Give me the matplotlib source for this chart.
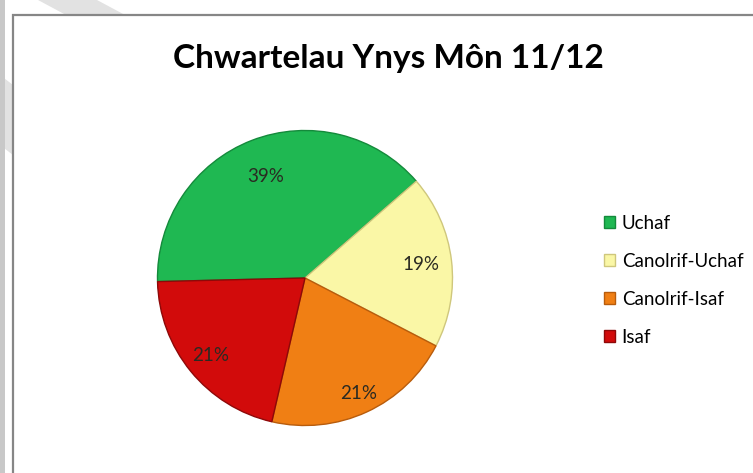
import numpy as np
import matplotlib.pyplot as plt
from matplotlib.patches import Rectangle, Polygon

# ---------- Data ----------
title = "Chwartelau Ynys Môn 11/12"
categories = ["Uchaf", "Canolrif-Uchaf", "Canolrif-Isaf", "Isaf"]
shares = [39, 19, 21, 21]
colors = ["#1FB852", "#FAF7A6", "#F07F14", "#D20B0B"]
edges = ["#148A3B", "#CFC77C", "#B85C0C", "#8E0808"]
# how far from the centre each percentage label sits (fraction of radius)
label_dist = [0.74, 0.79, 0.86, 0.83]

plt.rcParams['font.family'] = ['Lato', 'DejaVu Sans']

W, H = 753, 473
fig = plt.figure(figsize=(W / 100, H / 100), dpi=100)

# ---------- page background: watermark stripes and frame ----------
bg = fig.add_axes([0, 0, 1, 1])
bg.set_xlim(0, W)
bg.set_ylim(H, 0)
bg.axis("off")
grey = "#E2E2E2"
bg.add_patch(Polygon([(38, 0), (97, 0), (125, 15), (66, 15)], closed=True, color=grey, lw=0))
bg.add_patch(Polygon([(0, 75), (13, 85), (13, 155), (0, 145)], closed=True, color=grey, lw=0))
bg.add_patch(Rectangle((0, 0), 5, H, color="#C8C8C8", lw=0))
bg.add_patch(Rectangle((13, 15), W, H, facecolor="white", edgecolor="#868686", lw=1.6))

# ---------- title ----------
fig.text(388 / W, 1 - 58 / H, title, ha="center", va="center",
         fontsize=24, fontweight="bold", color="black")

# ---------- pie ----------
cx, cy, r = 305, 278, 147.5
ax = fig.add_axes([(cx - r) / W, (H - cy - r) / H, 2 * r / W, 2 * r / H])
wedges, texts, autotexts = ax.pie(
    shares, colors=colors, startangle=181.4, counterclock=False,
    autopct="%1.0f%%", pctdistance=0.8,
    wedgeprops=dict(linewidth=1.0),
    textprops=dict(fontsize=13.5, color="#2A2A22"))
for w, e, t, d in zip(wedges, edges, autotexts, label_dist):
    w.set_edgecolor(e)
    w.set_clip_on(False)
    mid = np.deg2rad((w.theta1 + w.theta2) / 2)
    t.set_position((d * np.cos(mid), d * np.sin(mid)))
ax.set_xlim(-1, 1)
ax.set_ylim(-1, 1)
ax.set_aspect("equal")

# ---------- legend ----------
leg = fig.legend(wedges, categories, loc="center left",
                 bbox_to_anchor=(587 / W, 1 - 280 / H), frameon=False,
                 fontsize=13.5, handlelength=0.6, handleheight=0.6,
                 handletextpad=0.35, labelspacing=1.12)

fig.savefig("out.png", dpi=100)
